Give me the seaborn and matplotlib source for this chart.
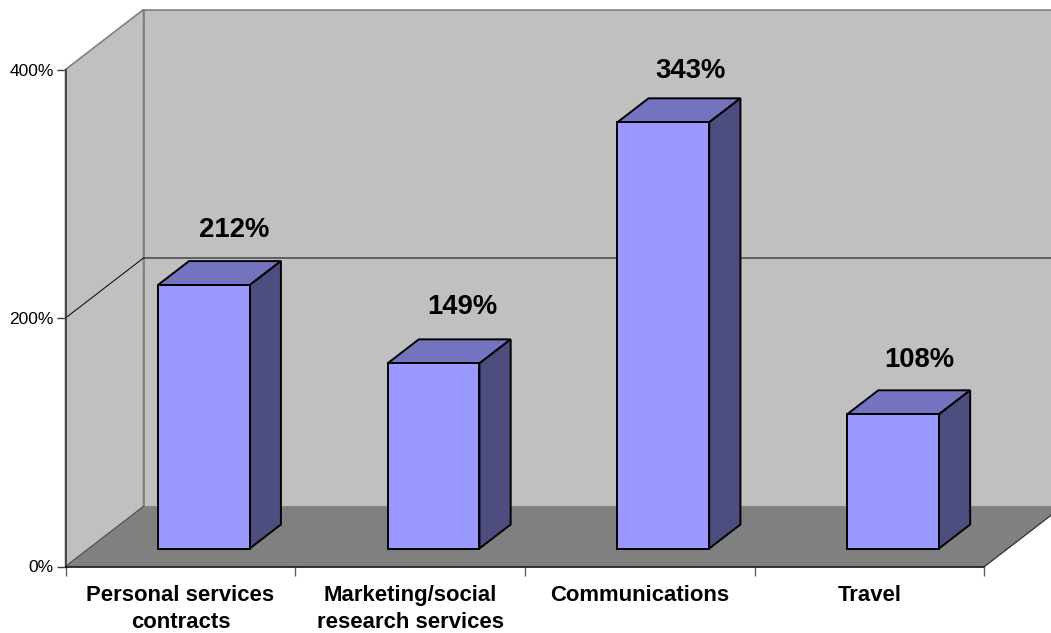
import matplotlib
matplotlib.use("Agg")
import matplotlib.pyplot as plt
import numpy as np
import pandas as pd
import seaborn as sns
from matplotlib.patches import Polygon

categories = ["Personal services\ncontracts", "Marketing/social\nresearch services",
              "Communications", "Travel"]
values = [212, 149, 343, 108]
y_ticks = [0, 200, 400]

WALL = "#C0C0C0"
FLOOR = "#808080"
FRONT = "#9999FF"
TOP = "#7373BF"
SIDE = "#4D4D80"
EDGE = "#808080"

# Fine placement of each value label, in pixels (right, down)
label_nudge = [(1, 1), (0, 0), (-1.5, 5), (-3, 2)]

sns.set_theme(style="white")
plt.rcParams["font.family"] = ["Liberation Sans", "DejaVu Sans"]

W, H = 1051, 633
fig = plt.figure(figsize=(W / 100, H / 100), dpi=100, facecolor="white")
ax = fig.add_axes([65.5 / W, 1 - 566.5 / H, 919 / W, 497 / H])
ax.patch.set_alpha(0)

df = pd.DataFrame({"category": categories, "value": values})
sns.barplot(data=df, x="category", y="value", color=FRONT, saturation=1, width=0.4,
            edgecolor="black", linewidth=1.4, zorder=5, ax=ax)
ax.set_xlim(-0.5, 3.5)
ax.set_ylim(0, 400)

# Oblique depth of the chart box, in data units
depth_x = 78 / (919 / 4)
depth_y = 60 / (497 / 400)
x0, x1 = -0.5, 3.5
top = 400


def face(points, color, edge="none", lw=0.0, z=1):
    ax.add_patch(Polygon(points, closed=True, facecolor=color, edgecolor=edge,
                         linewidth=lw, clip_on=False, zorder=z))


# Back wall, side wall and floor
face([(x0 + depth_x, depth_y), (x1 + depth_x, depth_y),
      (x1 + depth_x, top + depth_y), (x0 + depth_x, top + depth_y)], WALL, EDGE, 1.2)
face([(x0, 0), (x0 + depth_x, depth_y), (x0 + depth_x, top + depth_y), (x0, top)], WALL, EDGE, 1.2)
face([(x0, 0), (x1, 0), (x1 + depth_x, depth_y), (x0 + depth_x, depth_y)], FLOOR, z=2)
ax.plot([x0, x0 + depth_x], [0, depth_y], color="#505050", lw=0.7, clip_on=False, zorder=3)
ax.plot([x1, x1 + depth_x], [0, depth_y], color="#303030", lw=0.9, clip_on=False, zorder=3)

# Gridline at 200% running along both walls
ax.plot([x0, x0 + depth_x, x1 + depth_x], [200, 200 + depth_y, 200 + depth_y],
        color="black", lw=0.7, clip_on=False, zorder=3)

# Boxes stand 30% into the depth and take up 40% of it
for bar, v, (nudge_x, nudge_y) in zip(ax.patches, values, label_nudge):
    bar.set_x(bar.get_x() + 0.3 * depth_x)
    bar.set_y(0.3 * depth_y)
    bar.set_clip_on(False)
    bar.set_joinstyle("miter")

    left, right = bar.get_x(), bar.get_x() + bar.get_width()
    base, crown = bar.get_y(), bar.get_y() + bar.get_height()
    bx, by = 0.4 * depth_x, 0.4 * depth_y
    face([(left, crown), (right, crown), (right + bx, crown + by), (left + bx, crown + by)],
         TOP, "black", 1.4, 4)
    face([(right, base), (right + bx, base + by), (right + bx, crown + by), (right, crown)],
         SIDE, "black", 1.4, 4)

    ax.annotate(f"{v}%", xy=(left + bar.get_width() / 2 + 0.126, crown + 45),
                xytext=(nudge_x * 0.72, -nudge_y * 0.72), textcoords="offset points",
                ha="center", va="center", fontsize=19.8, fontweight="bold", color="black",
                annotation_clip=False, zorder=6)

ax.set_xlabel("")
ax.set_ylabel("")
ax.set_yticks(y_ticks, [f"{t}%" for t in y_ticks])
ax.set_xticks(range(len(categories)), categories)
ax.set_xticks(np.arange(x0, x1 + 1), minor=True)

ax.tick_params(axis="y", which="major", left=True, length=6.5, width=1.0, color="#404040",
               pad=2, labelsize=12.5, labelcolor="black")
ax.tick_params(axis="x", which="major", bottom=False, length=0, pad=13.5, labelsize=15.9,
               labelcolor="black")
ax.tick_params(axis="x", which="minor", bottom=True, length=6.5, width=1.0, color="#606060")
for label in ax.get_xticklabels():
    label.set_fontweight("bold")
    label.set_linespacing(1.36)

for name in ("top", "right"):
    ax.spines[name].set_visible(False)
ax.spines["left"].set_color("#404040")
ax.spines["left"].set_linewidth(1.3)
ax.spines["bottom"].set_color("black")
ax.spines["bottom"].set_linewidth(1.1)
for spine in ax.spines.values():
    spine.set_zorder(7)

fig.savefig("out.png", dpi=100)
